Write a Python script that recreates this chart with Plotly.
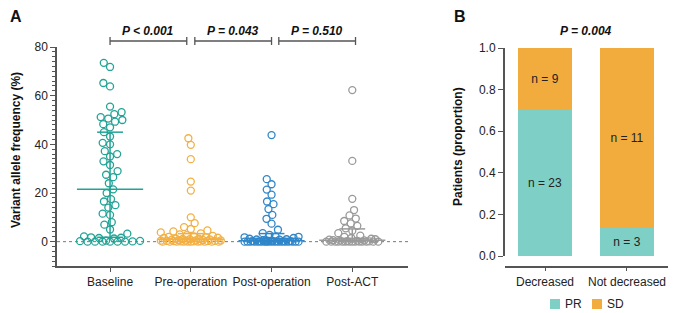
import math
import numpy as np
import plotly.graph_objects as go

# ---------------- data: panel A ----------------
categories_a = ["Baseline", "Pre-operation", "Post-operation", "Post-ACT"]

baseline = [73.5, 71.8, 65.2, 63.8, 55.5, 53.2, 52.4, 51.2, 50.6, 50.0, 49.3, 48.3,
            47.0, 45.0, 43.2, 40.6, 40.0, 37.2, 36.0, 35.0, 33.0, 31.5, 29.0, 27.5,
            26.5, 24.0, 21.5, 20.0, 17.5, 16.5, 15.0, 14.0, 11.5, 11.0, 8.0, 7.0,
            5.0, 3.3, 2.2, 1.8, 1.6, 1.5, 1.3, 0.4, 0.3, 0.2, 0.1, 0.0, 0.0, 0.0,
            0.0, 0.0, 0.0]
pre_op = [42.5, 39.8, 33.9, 24.7, 21.0, 10.0, 7.6, 6.0, 5.2, 4.6, 4.2, 3.8, 3.4,
          3.0, 2.7, 2.4, 2.2, 2.0, 1.8, 1.6, 1.5, 1.3, 1.2, 1.1, 1.0, 0.9, 0.8,
          0.7, 0.6, 0.5, 0.5, 0.4, 0.4, 0.3, 0.3, 0.2, 0.2, 0.1, 0.1, 0.1, 0.0,
          0.0, 0.0, 0.0, 0.0, 0.0, 0.0, 0.0, 0.0, 0.0]
post_op = [43.8, 25.7, 23.6, 21.4, 19.3, 16.5, 15.4, 13.4, 11.0, 9.4, 7.4, 4.9,
           3.5, 2.8, 2.2, 2.0, 1.8, 1.5, 1.2, 1.0, 0.9, 0.8, 0.6, 0.5, 0.4, 0.3,
           0.3, 0.2, 0.2, 0.1, 0.1, 0.1, 0.0, 0.0, 0.0, 0.0, 0.0, 0.0, 0.0, 0.0,
           0.0, 0.0, 0.0, 0.0, 0.0, 0.0, 0.0, 0.0, 0.0, 0.0]
post_act = [62.3, 33.2, 17.6, 13.0, 10.8, 9.5, 8.5, 7.5, 6.5, 5.5, 4.5, 3.5, 2.5,
            2.0, 1.5, 1.2, 1.0, 0.8, 0.6, 0.5, 0.4, 0.3, 0.2, 0.1, 0.0, 0.0, 0.0,
            0.0, 0.0, 0.0, 0.0, 0.0, 0.0, 0.0, 0.0, 0.0, 0.0, 0.0]
group_colors = ["#22A396", "#F3B042", "#2F86C9", "#9A9A9A"]
p_values_a = ["P &lt; 0.001", "P = 0.043", "P = 0.510"]
p_pairs_a = [(0.0, 0.95), (1.05, 2.0), (2.09, 3.04)]

# ---------------- data: panel B ----------------
categories_b = ["Decreased", "Not decreased"]
pr_prop = [0.70, 0.135]
sd_prop = [0.30, 0.865]
pr_n = [23, 3]
sd_n = [9, 11]
legend_names = ["PR", "SD"]
bar_colors = ["#7ECFC6", "#F2AC3D"]
p_value_b = "P = 0.004"

FONT = "Arial, Liberation Sans, sans-serif"
# the page body has an 8px margin, so the figure is placed at (8, 8) in the window
OFF = 8
W, H = 676 - OFF, 313 - OFF


def PX(p):   # window x pixel -> paper fraction
    return (p - OFF) / W


def PY(p):   # window y pixel -> paper fraction
    return (H - (p - OFF)) / H


# geometry of panel A (pixels)
PX_PER_Y = 2.433     # pixels per 1 % VAF
PX_PER_CAT = 80.7    # pixels per category step


def beeswarm(vals, diam, maxw):
    """Deterministic beeswarm offsets (pixels) for a list of values."""
    order = sorted(range(len(vals)), key=lambda i: vals[i])
    placed = []
    offs = [0.0] * len(vals)
    for i in order:
        y = vals[i] * PX_PER_Y
        near = [(px, py) for px, py in placed if abs(py - y) < diam]
        cands = [0.0]
        for px, py in near:
            dx = math.sqrt(max(diam * diam - (py - y) ** 2, 0.0))
            cands += [px - dx, px + dx]

        def ok(c):
            return all((c - px) ** 2 + (y - py) ** 2 >= diam * diam - 1e-6 for px, py in near)

        valid = [c for c in cands if ok(c) and abs(c) <= maxw]
        if valid:
            best = min(valid, key=lambda c: (abs(c), c))
        else:
            grid = np.arange(-maxw, maxw + 0.01, 1.0)
            best = max(grid, key=lambda c: (min(math.hypot(c - px, y - py) for px, py in near), -abs(c)))
        offs[i] = float(best)
        placed.append((best, y))
    return offs


fig = go.Figure()

groups = [baseline, pre_op, post_op, post_act]
swarm_params = [(7.5, 30), (7.0, 30), (7.0, 27), (7.0, 26)]
for gi, (vals, col, (d, mw)) in enumerate(zip(groups, group_colors, swarm_params)):
    offs = beeswarm(vals, d, mw)
    xs = [gi + o / PX_PER_CAT for o in offs]
    fig.add_trace(go.Scatter(
        x=xs, y=vals, mode="markers", xaxis="x", yaxis="y", showlegend=False,
        marker=dict(symbol="circle-open", size=7, color=col, line=dict(width=1.3)),
        hoverinfo="y"))

for gi, (vals, col) in enumerate(zip(groups, group_colors)):
    q1, med, q3 = np.percentile(vals, [25, 50, 75])
    hw, cw = 0.41, 0.16
    xs = [gi - hw, gi + hw, None, gi, gi, None, gi - cw, gi + cw, None, gi - cw, gi + cw]
    ys = [med, med, None, q1, q3, None, q1, q1, None, q3, q3]
    fig.add_trace(go.Scatter(x=xs, y=ys, mode="lines", xaxis="x", yaxis="y",
                             showlegend=False, hoverinfo="skip",
                             line=dict(color=col, width=1.5)))

# ---------------- panel B bars ----------------
for name, props, ns, col in zip(legend_names, [pr_prop, sd_prop], [pr_n, sd_n], bar_colors):
    fig.add_trace(go.Bar(
        x=categories_b, y=props, name=name, marker_color=col, width=0.66,
        marker_line_width=0, showlegend=False,
        text=[f"n = {n}" for n in ns], textposition="inside", insidetextanchor="middle",
        textfont=dict(color="#222222", size=12, family=FONT), xaxis="x2", yaxis="y2"))

AX = "#555555"
fig.update_layout(
    template="none",
    width=W, height=H, margin=dict(l=0, r=0, t=0, b=0, autoexpand=False),
    paper_bgcolor="white", plot_bgcolor="white",
    font=dict(family=FONT, size=12, color="#222222"),
    barmode="stack", showlegend=False,
    xaxis=dict(domain=[PX(57), PX(408)], range=[-0.657, 3.69], anchor="y",
               tickmode="array", tickvals=[0, 1, 2, 3], ticktext=categories_a,
               showline=True, linecolor=AX, linewidth=1.5, ticks="outside",
               ticklen=4, tickcolor=AX, tickwidth=1.2, showgrid=False, zeroline=False,
               tickfont=dict(size=12), automargin=False),
    yaxis=dict(domain=[PY(266), PY(47)], range=[-10, 80], anchor="x",
               tickmode="array", tickvals=[0, 20, 40, 60, 80],
               showline=True, linecolor=AX, linewidth=1.5, ticks="outside",
               ticklen=5, tickcolor=AX, tickwidth=1.2, showgrid=False, zeroline=False,
               tickfont=dict(size=12), automargin=False,
               minor=dict(ticks="outside", ticklen=3, tickcolor=AX, tickwidth=1,
                          tickmode="linear", tick0=0, dtick=2, showgrid=False)),
    xaxis2=dict(domain=[PX(505), PX(672)], range=[-0.488, 1.549], anchor="free",
                position=PY(266.5), type="category",
                showline=True, linecolor=AX, linewidth=1.5, ticks="outside",
                ticklen=4, tickcolor=AX, tickwidth=1.2, showgrid=False, zeroline=False,
                tickfont=dict(size=12), automargin=False),
    yaxis2=dict(domain=[PY(256), PY(48)], range=[0, 1], anchor="x2",
                tickmode="array", tickvals=[0, 0.2, 0.4, 0.6, 0.8, 1.0], tickformat=".1f",
                showline=True, linecolor=AX, linewidth=2, ticks="outside",
                ticklen=5, tickcolor=AX, tickwidth=1.2, showgrid=False, zeroline=False,
                tickfont=dict(size=12), automargin=False),
)

# zero reference line
fig.add_shape(type="line", xref="x domain", yref="y", x0=0, x1=1.005, y0=0, y1=0,
              line=dict(color="#777777", width=1, dash="dot"), layer="below")

# significance brackets for panel A
yb = PY(41)
tick_h = 4 / H
for (a, b), label in zip(p_pairs_a, p_values_a):
    fig.add_shape(type="line", xref="x", yref="paper", x0=a, x1=b, y0=yb, y1=yb,
                  line=dict(color=AX, width=1.3))
    for xx in (a, b):
        fig.add_shape(type="line", xref="x", yref="paper", x0=xx, x1=xx,
                      y0=yb - tick_h, y1=yb + tick_h, line=dict(color=AX, width=1.3))
    fig.add_annotation(x=(a + b) / 2, y=PY(31), xref="x", yref="paper",
                       xanchor="center", yanchor="middle",
                       text=f"<b><i>{label}</i></b>", showarrow=False,
                       font=dict(size=12, color="#111111"))

fig.add_annotation(x=0.5, y=PY(31), xref="x2", yref="paper",
                   xanchor="center", yanchor="middle",
                   text=f"<b><i>{p_value_b}</i></b>", showarrow=False,
                   font=dict(size=12, color="#111111"))

# legend for panel B (key squares + labels)
leg_y = PY(304)
for name, col, cx in zip(legend_names, bar_colors, [555, 597]):
    fig.add_shape(type="rect", xref="paper", yref="paper",
                  x0=PX(cx - 5), x1=PX(cx + 5), y0=leg_y - 5 / H, y1=leg_y + 5 / H,
                  fillcolor=col, line=dict(width=0))
    fig.add_annotation(x=PX(cx + 8), y=leg_y, xref="paper", yref="paper",
                       xanchor="left", yanchor="middle", text=name, showarrow=False,
                       font=dict(size=12, color="#222222"))

# axis titles
fig.add_annotation(x=PX(16), y=PY(150), xref="paper", yref="paper",
                   xanchor="center", yanchor="middle",
                   text="<b>Variant allele frequency (%)</b>", textangle=-90,
                   showarrow=False, font=dict(size=12, color="#111111"))
fig.add_annotation(x=PX(458), y=PY(147), xref="paper", yref="paper",
                   xanchor="center", yanchor="middle",
                   text="<b>Patients (proportion)</b>", textangle=-90,
                   showarrow=False, font=dict(size=12, color="#111111"))

# panel letters
fig.add_annotation(x=PX(8), y=PY(16), xref="paper", yref="paper",
                   xanchor="left", yanchor="middle",
                   text="<b>A</b>", showarrow=False, font=dict(size=16, color="#111111"))
fig.add_annotation(x=PX(452), y=PY(16), xref="paper", yref="paper",
                   xanchor="left", yanchor="middle",
                   text="<b>B</b>", showarrow=False, font=dict(size=16, color="#111111"))

fig.write_html("out.html")
